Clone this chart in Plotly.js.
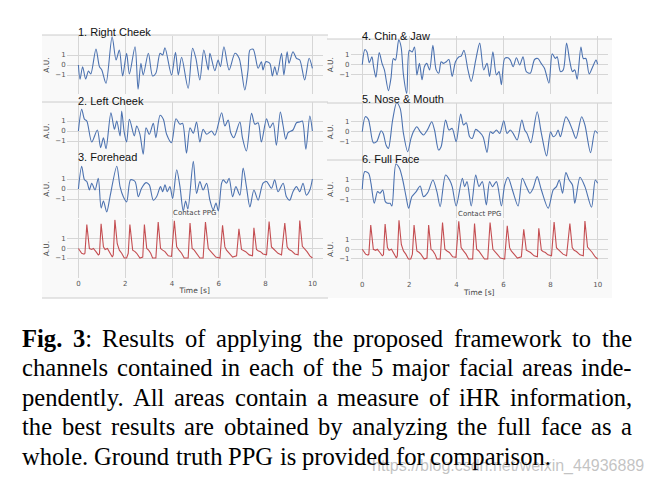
<!DOCTYPE html>
<html>
<head>
<meta charset="utf-8">
<script src="https://cdn.plot.ly/plotly-3.0.1.min.js"></script>
<style>
html, body { margin: 0; padding: 0; background: #fff; }
#chart { width: 648px; height: 484px; }
</style>
</head>
<body>
<div id="chart"></div>
<script>
// ---- signals (time in s, amplitude in A.U.) ----
const rcTime = [0,0.07,0.18,0.31,0.43,0.53,0.75,0.90,1.00,1.18,1.44,1.61,1.75,1.89,2.06,2.18,2.42,2.55,2.67,2.77,2.99,3.17,3.31,3.49,3.60,3.70,3.98,4.15,4.27,4.41,4.69,4.88,5.02,5.19,5.36,5.55,5.62,5.83,5.97,6.07,6.22,6.44,6.69,6.87,7.11,7.25,7.33,7.47,7.68,7.82,7.89,8.01,8.18,8.29,8.39,8.49,8.68,8.78,8.92,9.00,9.17,9.32,9.46,9.67,9.86,10.0];
const rcVal  = [0,-1.43,-0.17,-1.4,-0.6,-0.9,1.6,-0.17,-0.5,-1.83,2.83,0.5,1.5,-1.1,1.17,-0.9,1.83,-2.43,0.17,-1.0,1.17,-1.1,-0.83,1.17,1.0,1.73,-1.0,1.27,-1.0,0.77,-2.33,1.67,0.67,-1.5,1.5,-0.5,1.17,-0.57,0.5,-0.17,1.83,-0.5,1.17,0.67,-2.5,-0.5,1.5,1.57,-0.33,0.33,-0.5,0.33,0.17,-1.1,-0.17,-1.0,1.17,-1.0,1.33,0.17,1.33,0.67,0.5,-1.5,0.67,-0.33];

const lcTime = [0,0.14,0.26,0.36,0.57,0.81,0.95,1.07,1.18,1.39,1.54,1.64,1.78,1.85,1.96,2.06,2.18,2.39,2.49,2.63,2.77,2.89,3.03,3.20,3.31,3.49,3.63,3.77,3.98,4.17,4.34,4.45,4.62,4.77,4.91,5.05,5.19,5.33,5.48,5.69,5.83,6.12,6.26,6.40,6.51,6.64,6.90,7.01,7.18,7.40,7.54,7.68,7.82,8.04,8.18,8.32,8.46,8.63,8.75,8.86,8.96,9.17,9.32,9.46,9.57,9.72,9.89,10.0];
const lcVal  = [0,2.17,1.17,1.0,-1.1,0.1,-1.67,-0.67,-1.77,1.83,0.17,1.0,-0.5,2.0,-0.17,-1.1,1.17,-0.5,0.5,-0.33,-2.33,0.33,-0.33,0.77,-0.67,1.57,1.17,-0.33,-1.17,1.23,0.67,0.77,-2.23,0.33,-0.23,0.9,-1.1,0.17,-0.33,0,-0.43,1.83,0.5,1.1,-0.17,-0.67,0.9,-0.67,-2.0,1.77,0.67,0.83,-1.1,1.23,0.33,0.83,-1.43,1.9,0.5,-0.83,-0.17,0.1,0.83,0.9,1.0,-1.83,1.5,0];

const fhTime = [0,0.14,0.26,0.36,0.47,0.57,0.71,0.85,0.97,1.07,1.21,1.35,1.64,1.78,1.92,2.06,2.23,2.42,2.56,2.70,2.89,3.03,3.20,3.34,3.51,3.60,3.70,3.80,3.91,4.03,4.20,4.34,4.48,4.58,4.68,4.91,5.05,5.19,5.33,5.48,5.62,5.76,5.88,5.98,6.12,6.19,6.33,6.44,6.59,6.73,6.90,7.04,7.18,7.33,7.50,7.68,7.89,8.04,8.25,8.39,8.53,8.75,8.89,9.03,9.17,9.32,9.46,9.60,9.74,9.89,10.0];
const fhVal  = [0,2.27,0.92,0.75,-0.1,0.58,-0.1,1.08,-1.9,-1.2,-2.3,-0.78,2.27,0.24,-0.78,-1.29,0.92,0.75,-0.78,0.07,0.64,0.41,-1.12,-0.78,0.24,-0.27,0.41,-0.27,0.24,-0.95,1.93,0.24,-2.2,-1.2,-2.0,2.78,-0.44,0.75,-0.1,0.58,-1.12,-2.1,-1.4,-2.2,0.58,0.92,0.58,1.08,-0.78,0.24,-0.61,2.1,0.24,-1.8,-0.1,-1.12,0.58,0.75,0.07,0.92,-0.27,0.58,-0.78,-1.12,-0.27,0.24,-0.27,0.58,-0.61,-0.1,1.0];

const cjTime = [0,0.11,0.20,0.30,0.41,0.48,0.58,0.72,0.84,0.94,1.11,1.22,1.32,1.41,1.55,1.65,1.75,1.89,2.00,2.12,2.22,2.32,2.43,2.54,2.64,2.74,2.86,3.00,3.14,3.25,3.35,3.45,3.57,3.68,3.82,3.96,4.11,4.20,4.32,4.49,4.63,4.82,4.99,5.16,5.30,5.41,5.55,5.70,5.81,5.91,6.05,6.19,6.29,6.41,6.55,6.69,6.83,6.97,7.14,7.32,7.46,7.60,7.74,7.93,8.07,8.20,8.28,8.42,8.54,8.68,8.82,8.93,9.03,9.13,9.29,9.39,9.50,9.64,9.79,9.93,10.0];
const cjVal  = [0,1.51,1.28,0.2,0.79,-0.2,-1.25,1.21,0.13,-0.52,-2.59,-1.34,0.62,0.46,2.49,1.77,-1.02,-2.89,1.44,1.28,1.77,-1.02,0.13,-1.51,-0.2,0.13,-0.52,1.93,-0.52,-0.85,0.3,0.13,0.3,0.52,-1.18,0.3,0.79,0.85,1.44,-0.52,-1.67,0.46,2.16,-0.52,0.13,-1.18,1.28,-1.02,-0.69,-2.0,0.62,0.69,0.46,-0.2,0.69,-0.03,0.79,-0.69,-0.85,0.52,0.62,0.13,-0.36,-1.84,1.1,0.62,0.79,-0.69,-0.52,2.16,0.3,-0.69,-0.52,-1.44,1.77,0.62,0.62,-0.92,-0.2,0.46,0.03];

const nmTime = [0,0.13,0.26,0.33,0.47,0.61,0.80,0.89,1.01,1.11,1.29,1.46,1.61,1.75,1.93,2.07,2.17,2.32,2.46,2.60,2.78,2.95,3.07,3.24,3.35,3.54,3.68,3.82,3.99,4.18,4.30,4.42,4.56,4.67,4.82,4.96,5.13,5.30,5.44,5.55,5.70,5.84,6.01,6.15,6.29,6.41,6.58,6.78,6.90,7.00,7.16,7.43,7.61,7.83,8.00,8.11,8.22,8.32,8.42,8.65,8.79,8.93,9.08,9.32,9.46,9.70,9.89,10.0];
const nmVal  = [0,1.5,1.23,0.5,-1.1,-1.0,0.1,-0.17,-1.33,-1.67,1.17,2.9,2.33,-0.17,-2.0,-0.67,0,0.5,0,-0.33,0.23,1.0,0.17,-1.83,-1.5,1.17,0.17,0.33,-1.0,1.77,0.67,0.9,-0.5,-0.67,0.23,0,-0.5,-2.07,0,-0.17,0.17,-0.17,1.1,-0.17,0.17,-0.17,-0.83,1.17,0.17,-0.17,-1.1,2.0,-0.17,-2.43,0,-0.5,-0.33,0.17,-0.5,1.5,1.0,0.17,-0.67,1.5,0.67,-2.1,0.1,-0.17];

const ffTime = [0,0.11,0.27,0.37,0.51,0.65,0.75,0.87,0.98,1.08,1.18,1.26,1.43,1.58,1.72,1.86,1.97,2.11,2.29,2.46,2.60,2.78,3.00,3.17,3.31,3.54,3.71,3.82,3.99,4.25,4.35,4.45,4.63,4.82,4.96,5.10,5.27,5.41,5.53,5.70,5.91,6.05,6.19,6.38,6.62,6.80,6.97,7.12,7.26,7.43,7.61,7.90,8.11,8.25,8.37,8.51,8.65,8.79,8.93,9.03,9.25,9.46,9.74,9.90,10.0];
const ffVal  = [0,1.77,1.6,0.6,-1.4,-0.23,-0.4,-0.07,-1.23,-1.4,-1.4,-1.67,2.53,2.1,0.93,-0.73,-1.9,-0.73,-0.23,0.33,-0.73,-0.33,0.93,-0.23,-1.73,1.43,0.93,0.27,-1.67,1.1,0.27,0.77,-1.67,1.43,0.27,0.77,-1.57,0.77,0.27,0.77,-1.67,0.43,1.2,-0.07,-1.67,1.1,0.27,-0.4,0.1,1.27,-0.07,-1.9,-0.07,0.27,0.93,-0.4,1.67,0.93,0.43,-1.4,1.2,0.27,-1.8,0.93,0.6];

const ppgTime = [0,0.14,0.24,0.28,0.36,0.47,0.57,0.64,0.75,0.85,0.90,0.97,1.07,1.14,1.24,1.35,1.45,1.49,1.56,1.66,1.75,1.85,1.96,2.06,2.13,2.20,2.32,2.42,2.49,2.63,2.75,2.82,2.92,3.00,3.09,3.17,3.31,3.41,3.51,3.60,3.70,3.84,3.98,4.10,4.20,4.30,4.41,4.52,4.69,4.77,4.86,4.95,5.05,5.19,5.33,5.43,5.55,5.62,5.73,5.87,6.05,6.16,6.26,6.33,6.44,6.59,6.76,6.86,6.97,7.04,7.15,7.30,7.44,7.50,7.61,7.68,7.78,7.89,8.04,8.15,8.25,8.32,8.43,8.53,8.68,8.82,8.92,9.00,9.10,9.25,9.39,9.46,9.57,9.67,9.77,9.89,10.0];
const ppgVal  = [0,-0.5,-0.6,-0.5,2.5,0,-0.1,0,-0.33,-0.67,-0.57,2.6,0.17,-0.1,0,-0.5,-0.9,-0.67,3.0,0.5,-0.17,-0.5,-1.0,-1.0,-0.5,2.5,-0.17,-0.33,-0.5,-1.0,-0.9,2.5,0,-0.17,-0.5,-1.0,-1.0,2.77,0,-0.17,-0.33,-0.77,-0.83,2.9,0.17,-0.17,-0.5,-1.0,-1.0,2.67,0,-0.17,-0.5,-1.0,-1.0,2.77,0,-0.17,-0.5,-0.9,-1.0,2.43,0.17,-0.17,-0.5,-0.9,-0.77,2.07,-0.1,-0.17,-0.33,-0.67,-0.77,2.17,-0.1,-0.23,-0.33,-0.57,-0.67,2.83,0.17,0,-0.23,-0.5,-0.67,2.67,0.17,-0.1,-0.23,-0.57,-0.67,2.93,0.23,0,-0.33,-0.77,-1.0];

const xTicks = [0, 2, 4, 6, 8, 10];
const yTicks = [-1, 0, 1];

const captionLines = [
  '**Fig.** **3**: Results of applying the proposed framework to the',
  'channels contained in each of the 5 major facial areas inde-',
  'pendently. All areas contain a measure of iHR information,',
  'the best results are obtained by analyzing the full face as a',
  'whole. Ground truth PPG is provided for comparison.'
];
const watermark = 'https://blog.csdn.net/weixin_44936889';

// ---- layout helpers (pixel -> paper) ----
const W = 648, H = 484;
function px(x) { return x / W; }
function py(y) { return 1 - y / H; }

const BLUE = '#4c72b0', RED = '#c44e52', GRID = '#d6d6d6', TICK = '#555555';

const panels = [
  {title: '1. Right Cheek', t: rcTime, v: rcVal, color: BLUE, x0: 66.7, x1: 322.7, top: 36, bot: 94, lim: 2.9, ty: 32},
  {title: '2. Left Cheek', t: lcTime, v: lcVal, color: BLUE, x0: 66.7, x1: 322.7, top: 102, bot: 160, lim: 2.9, ty: 101},
  {title: '3. Forehead', t: fhTime, v: fhVal, color: BLUE, x0: 66.7, x1: 322.7, top: 160, bot: 218, lim: 2.9, ty: 157},
  {title: 'Contact PPG', t: ppgTime, v: ppgVal, color: RED, x0: 66.7, x1: 322.7, top: 219.4, bot: 277.6, lim: 3.05, ty: 213.3, ppg: true},
  {title: '4. Chin & Jaw', t: cjTime, v: cjVal, color: BLUE, x0: 350.5, x1: 608, top: 35.7, bot: 93.7, lim: 2.9, ty: 35.7},
  {title: '5. Nose & Mouth', t: nmTime, v: nmVal, color: BLUE, x0: 350.5, x1: 608, top: 102.7, bot: 160.7, lim: 2.9, ty: 99.3},
  {title: '6. Full Face', t: ffTime, v: ffVal, color: BLUE, x0: 350.5, x1: 608, top: 160.3, bot: 218.3, lim: 2.9, ty: 159.3},
  {title: 'Contact PPG', t: ppgTime, v: ppgVal, color: RED, x0: 350.5, x1: 608, top: 219.8, bot: 278.8, lim: 3.05, ty: 214.3, ppg: true}
];

const traces = [];
const layout = {
  width: W, height: H,
  margin: {l: 0, r: 0, t: 0, b: 0},
  paper_bgcolor: '#ffffff',
  plot_bgcolor: 'rgba(0,0,0,0)',
  showlegend: false,
  font: {family: 'DejaVu Sans', size: 7, color: TICK},
  shapes: [],
  annotations: []
};

// faint panel backgrounds and the separator lines of the original figure
layout.shapes.push(
  {type: 'rect', xref: 'paper', yref: 'paper', x0: px(42), x1: px(328), y0: py(298), y1: py(35), fillcolor: '#f9f9f9', line: {width: 0}, layer: 'below'},
  {type: 'rect', xref: 'paper', yref: 'paper', x0: px(328), x1: px(612), y0: py(298), y1: py(39), fillcolor: '#f9f9f9', line: {width: 0}, layer: 'below'}
);
[[42, 328, 35], [42, 328, 102], [42, 328, 298], [327, 612, 39], [327, 612, 103], [327, 612, 160]].forEach(function (s) {
  layout.shapes.push({type: 'line', xref: 'paper', yref: 'paper', x0: px(s[0]), x1: px(s[1]), y0: py(s[2]), y1: py(s[2]), line: {color: '#cccccc', width: 1}, layer: 'below'});
});

panels.forEach(function (p, i) {
  const n = i + 1;
  const xa = 'xaxis' + (n === 1 ? '' : n), ya = 'yaxis' + (n === 1 ? '' : n);
  traces.push({
    type: 'scatter', mode: 'lines',
    x: p.t, y: p.v,
    xaxis: 'x' + (n === 1 ? '' : n), yaxis: 'y' + (n === 1 ? '' : n),
    line: {color: p.color, width: 1.1, shape: p.ppg ? 'linear' : 'spline', smoothing: 0.8},
    hoverinfo: 'skip'
  });
  layout[xa] = {
    domain: [px(p.x0), px(p.x1)],
    anchor: 'y' + (n === 1 ? '' : n),
    range: [-0.5, 10.44],
    tickvals: xTicks,
    showticklabels: !!p.ppg,
    ticks: '',
    showgrid: true, gridcolor: GRID, gridwidth: 1,
    zeroline: false, showline: false,
    tickfont: {family: 'DejaVu Sans', size: 7, color: TICK},
    title: p.ppg ? {text: 'Time [s]', font: {family: 'DejaVu Sans', size: 7.5, color: '#444'}, standoff: 1} : {text: ''},
    fixedrange: true
  };
  layout[ya] = {
    domain: [py(p.bot), py(p.top)],
    anchor: 'x' + (n === 1 ? '' : n),
    range: [-p.lim, p.lim],
    tickvals: yTicks,
    ticks: '',
    showgrid: true, gridcolor: GRID, gridwidth: 1,
    zeroline: false, showline: false,
    tickfont: {family: 'DejaVu Sans', size: 7, color: TICK},
    title: {text: 'A.U.', font: {family: 'DejaVu Sans', size: 7.5, color: '#444'}, standoff: 4},
    fixedrange: true
  };
  if (p.ppg) {
    layout.annotations.push({
      xref: 'paper', yref: 'paper', x: px((p.x0 + p.x1) / 2), y: py(p.ty),
      text: p.title, showarrow: false, xanchor: 'center', yanchor: 'middle',
      font: {family: 'DejaVu Sans', size: 7, color: '#444'}
    });
  } else {
    layout.annotations.push({
      xref: 'x' + (n === 1 ? '' : n), yref: 'paper', x: 0, y: py(p.ty),
      text: p.title, showarrow: false, xanchor: 'left', yanchor: 'middle',
      borderpad: 0, borderwidth: 0,
      font: {family: 'Liberation Sans, Arial, sans-serif', size: 11, color: '#111'}
    });
  }
});

// watermark (under the caption text)
layout.annotations.push({
  xref: 'paper', yref: 'paper', x: px(372), y: py(466), xanchor: 'left', yanchor: 'middle',
  text: watermark, showarrow: false, borderpad: 0, borderwidth: 0,
  font: {family: 'Liberation Sans Narrow, Liberation Sans, sans-serif', size: 16, color: 'rgba(185,185,185,0.85)'}
});

// caption: justified lines, one annotation per word
const CAP = 24.6;
const ctx = document.createElement('canvas').getContext('2d');
function measure(word) {
  let w = 0;
  word.split(/(\*\*.+?\*\*)/).forEach(function (seg) {
    if (!seg) return;
    const bold = seg.indexOf('**') === 0;
    ctx.font = (bold ? 'bold ' : '') + CAP + 'px "Liberation Serif"';
    w += ctx.measureText(bold ? seg.slice(2, -2) : seg).width;
  });
  return w;
}
function toHtml(word) { return word.replace(/\*\*(.+?)\*\*/g, '<b>$1</b>'); }

const capLeft = 22, capRight = 632;
const capY = [338, 367.5, 397, 426.5, 456];
ctx.font = CAP + 'px "Liberation Serif"';
const spaceW = ctx.measureText(' ').width;
captionLines.forEach(function (line, li) {
  const words = line.split(' ');
  const widths = words.map(measure);
  const total = widths.reduce(function (a, b) { return a + b; }, 0);
  const last = li === captionLines.length - 1;
  const gap = last ? spaceW : (capRight - capLeft - total) / (words.length - 1);
  let x = capLeft;
  words.forEach(function (w, wi) {
    layout.annotations.push({
      xref: 'paper', yref: 'paper', x: px(x), y: py(capY[li]), xanchor: 'left', yanchor: 'middle',
      text: toHtml(w), showarrow: false, borderpad: 0, borderwidth: 0,
      font: {family: 'Liberation Serif, serif', size: CAP, color: '#000'}
    });
    x += widths[wi] + gap;
  });
});

Plotly.newPlot('chart', traces, layout, {displayModeBar: false, staticPlot: true});
</script>
</body>
</html>
